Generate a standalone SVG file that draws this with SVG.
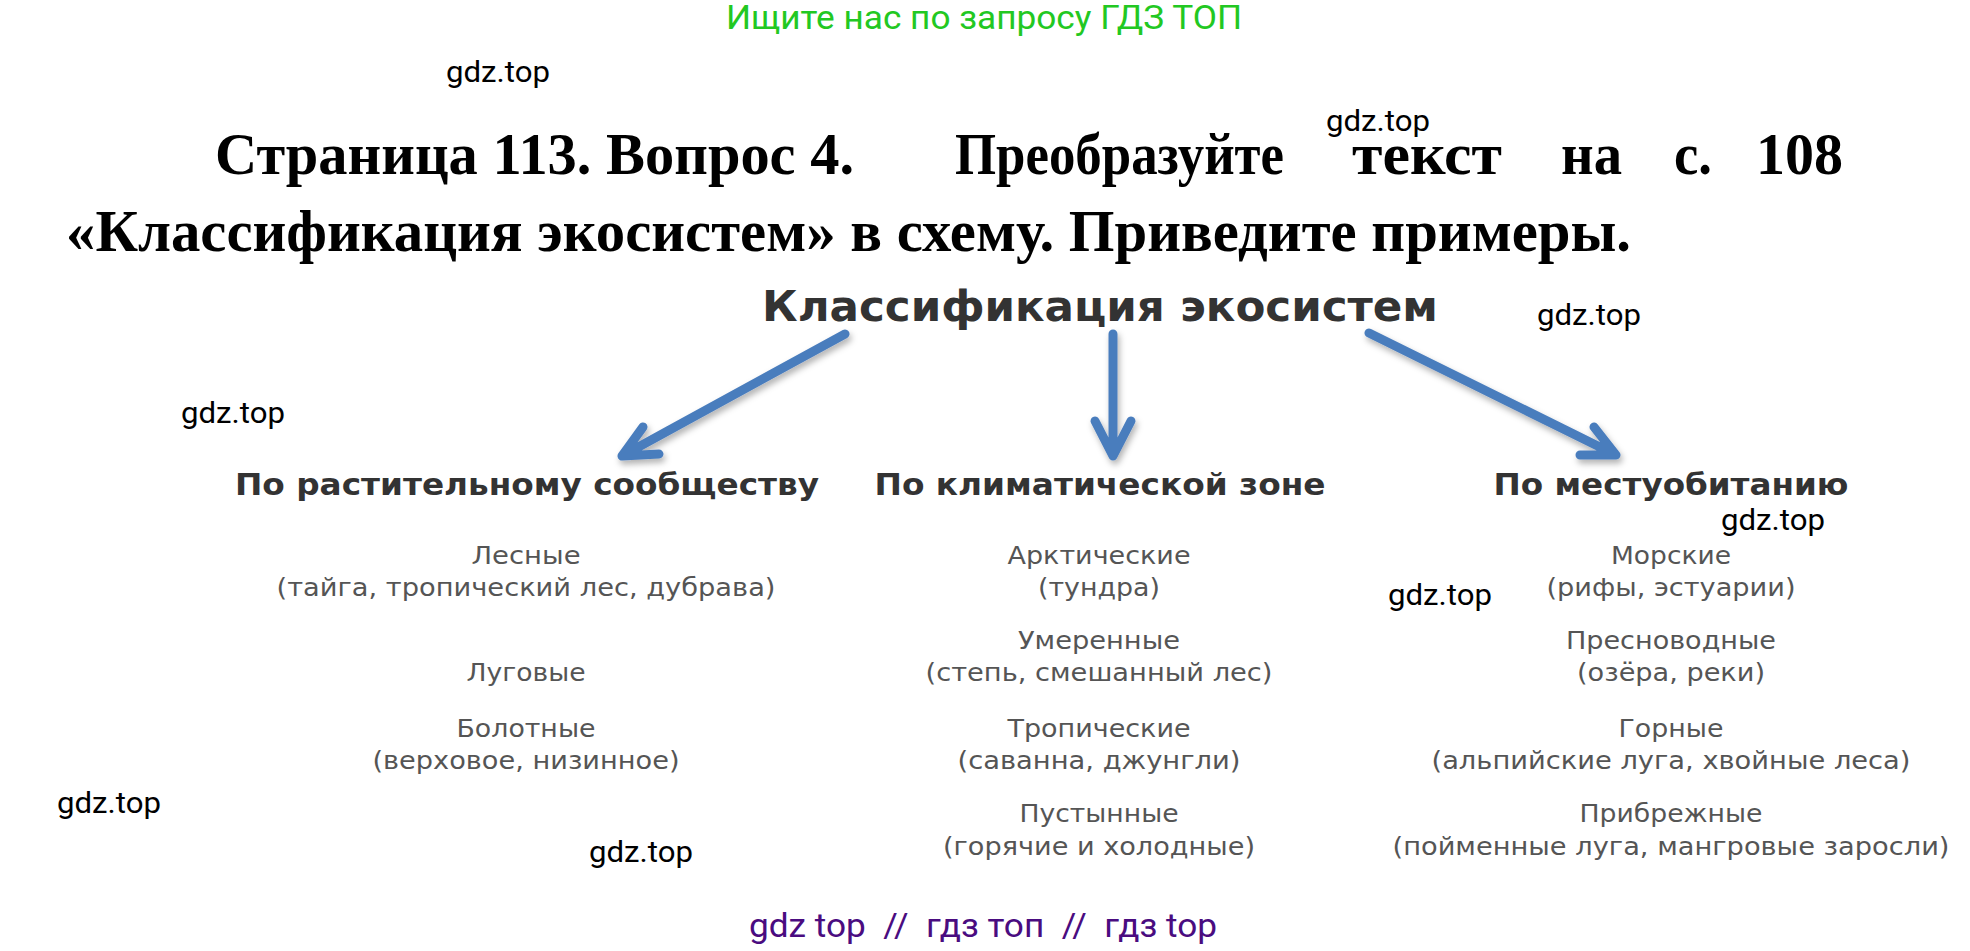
<svg xmlns="http://www.w3.org/2000/svg" width="1970" height="951" viewBox="0 0 1970 951">
<style>
.wm{font-family:Roboto,"Liberation Sans",sans-serif;font-size:30px;fill:#000}
.green{font-family:Roboto,"Liberation Sans",sans-serif;font-size:33px;fill:#22c822}
.purple{font-family:Roboto,"Liberation Sans",sans-serif;font-size:33px;fill:#4a0c80}
.title{font-family:"Liberation Serif","Times New Roman",serif;font-weight:bold;font-size:59px;fill:#000}
.main{font-family:"DejaVu Sans",sans-serif;font-weight:bold;font-size:42px;fill:#333;text-anchor:middle}
.cat{font-family:"DejaVu Sans",sans-serif;font-weight:bold;font-size:30px;fill:#333;text-anchor:middle}
.item{font-family:"DejaVu Sans",sans-serif;font-size:25px;fill:#555;text-anchor:middle}
.arr{fill:none;stroke:#4a7dbd;stroke-width:9;stroke-linecap:round;stroke-linejoin:round}
</style>
<defs>
<filter id="sh" x="-20%" y="-20%" width="140%" height="140%">
<feDropShadow dx="2" dy="4" stdDeviation="3" flood-color="#000" flood-opacity="0.3"/>
</filter>
</defs>
<rect width="1970" height="951" fill="#fff"/>

<text class="green" x="726" y="29" textLength="516" lengthAdjust="spacingAndGlyphs">Ищите нас по запросу ГДЗ ТОП</text>

<g id="heading">
<text class="title" x="215" y="174" textLength="639" lengthAdjust="spacingAndGlyphs">Страница 113. Вопрос 4.</text>
<text class="title" x="955" y="174" textLength="329" lengthAdjust="spacingAndGlyphs">Преобразуйте</text>
<text class="title" x="1352" y="174" textLength="150" lengthAdjust="spacingAndGlyphs">текст</text>
<text class="title" x="1561" y="174" textLength="61" lengthAdjust="spacingAndGlyphs">на</text>
<text class="title" x="1674" y="174" textLength="38" lengthAdjust="spacingAndGlyphs">с.</text>
<text class="title" x="1756" y="174" textLength="87" lengthAdjust="spacingAndGlyphs">108</text>
<text class="title" x="66" y="251" textLength="1565" lengthAdjust="spacingAndGlyphs">«Классификация экосистем» в схему. Приведите примеры.</text>
</g>

<g id="root">
<text class="main" x="1100" y="321" textLength="676" lengthAdjust="spacingAndGlyphs">Классификация экосистем</text>
</g>

<g id="connectors" filter="url(#sh)">
<path class="arr" d="M845,334 L622,456 M643,427 L622,456 L659,454"/>
<path class="arr" d="M1113,334 L1113,456 M1095,421 L1113,456 L1131,421"/>
<path class="arr" d="M1369,333 L1616,455 M1594,427 L1616,455 L1580,455"/>
</g>

<g id="cat-plant">
<text class="cat" x="527" y="495" textLength="584" lengthAdjust="spacingAndGlyphs">По растительному сообществу</text>
<text class="item" x="526" y="564" textLength="109" lengthAdjust="spacingAndGlyphs">Лесные</text>
<text class="item" x="526" y="596" textLength="499" lengthAdjust="spacingAndGlyphs">(тайга, тропический лес, дубрава)</text>
<text class="item" x="526" y="681" textLength="119" lengthAdjust="spacingAndGlyphs">Луговые</text>
<text class="item" x="526" y="737" textLength="139" lengthAdjust="spacingAndGlyphs">Болотные</text>
<text class="item" x="526" y="769" textLength="307" lengthAdjust="spacingAndGlyphs">(верховое, низинное)</text>
</g>

<g id="cat-climate">
<text class="cat" x="1100" y="495" textLength="451" lengthAdjust="spacingAndGlyphs">По климатической зоне</text>
<text class="item" x="1099" y="564" textLength="183" lengthAdjust="spacingAndGlyphs">Арктические</text>
<text class="item" x="1099" y="596" textLength="122" lengthAdjust="spacingAndGlyphs">(тундра)</text>
<text class="item" x="1099" y="649" textLength="162" lengthAdjust="spacingAndGlyphs">Умеренные</text>
<text class="item" x="1099" y="681" textLength="347" lengthAdjust="spacingAndGlyphs">(степь, смешанный лес)</text>
<text class="item" x="1099" y="737" textLength="183" lengthAdjust="spacingAndGlyphs">Тропические</text>
<text class="item" x="1099" y="769" textLength="283" lengthAdjust="spacingAndGlyphs">(саванна, джунгли)</text>
<text class="item" x="1099" y="822" textLength="159" lengthAdjust="spacingAndGlyphs">Пустынные</text>
<text class="item" x="1099" y="855" textLength="312" lengthAdjust="spacingAndGlyphs">(горячие и холодные)</text>
</g>

<g id="cat-habitat">
<text class="cat" x="1671" y="495" textLength="355" lengthAdjust="spacingAndGlyphs">По местуобитанию</text>
<text class="item" x="1671" y="564" textLength="120" lengthAdjust="spacingAndGlyphs">Морские</text>
<text class="item" x="1671" y="596" textLength="249" lengthAdjust="spacingAndGlyphs">(рифы, эстуарии)</text>
<text class="item" x="1671" y="649" textLength="210" lengthAdjust="spacingAndGlyphs">Пресноводные</text>
<text class="item" x="1671" y="681" textLength="188" lengthAdjust="spacingAndGlyphs">(озёра, реки)</text>
<text class="item" x="1671" y="737" textLength="105" lengthAdjust="spacingAndGlyphs">Горные</text>
<text class="item" x="1671" y="769" textLength="479" lengthAdjust="spacingAndGlyphs">(альпийские луга, хвойные леса)</text>
<text class="item" x="1671" y="822" textLength="183" lengthAdjust="spacingAndGlyphs">Прибрежные</text>
<text class="item" x="1671" y="855" textLength="557" lengthAdjust="spacingAndGlyphs">(пойменные луга, мангровые заросли)</text>
</g>

<g id="watermarks">
<text class="wm" x="446" y="82" textLength="104" lengthAdjust="spacingAndGlyphs">gdz.top</text>
<text class="wm" x="1326" y="131" textLength="104" lengthAdjust="spacingAndGlyphs">gdz.top</text>
<text class="wm" x="1537" y="325" textLength="104" lengthAdjust="spacingAndGlyphs">gdz.top</text>
<text class="wm" x="181" y="423" textLength="104" lengthAdjust="spacingAndGlyphs">gdz.top</text>
<text class="wm" x="1721" y="530" textLength="104" lengthAdjust="spacingAndGlyphs">gdz.top</text>
<text class="wm" x="1388" y="605" textLength="104" lengthAdjust="spacingAndGlyphs">gdz.top</text>
<text class="wm" x="57" y="813" textLength="104" lengthAdjust="spacingAndGlyphs">gdz.top</text>
<text class="wm" x="589" y="862" textLength="104" lengthAdjust="spacingAndGlyphs">gdz.top</text>
</g>

<text class="purple" x="749" y="937" xml:space="preserve" textLength="468" lengthAdjust="spacingAndGlyphs">gdz top  //  гдз топ  //  гдз top</text>
</svg>
